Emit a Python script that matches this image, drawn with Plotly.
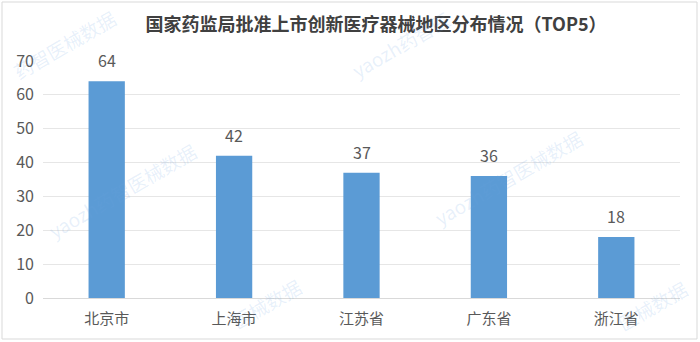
import plotly.graph_objects as go

# Regional distribution of approved innovative medical devices (top 5)
regions = ["北京市", "上海市", "江苏省", "广东省", "浙江省"]
counts = [64, 42, 37, 36, 18]
y_ticks = [0, 10, 20, 30, 40, 50, 60, 70]

title_text = "国家药监局批准上市创新医疗器械地区分布情况（TOP5）"
watermark_full = "yaozh药智医械数据"

FONT = "Noto Sans CJK SC, Microsoft YaHei, sans-serif"
BAR_COLOR = "#5B9BD5"
TEXT_COLOR = "#595959"

fig = go.Figure()
fig.add_trace(go.Bar(
    x=regions,
    y=counts,
    marker=dict(color=BAR_COLOR, line=dict(width=0)),
    hoverinfo="x+y",
))

# value labels above each bar
for r, c in zip(regions, counts):
    fig.add_annotation(
        x=r, y=c, text=str(c), showarrow=False,
        xref="x", yref="y", yanchor="bottom", yshift=7,
        font=dict(family=FONT, size=16, color=TEXT_COLOR),
    )

# faint diagonal watermark stamps, positioned in pixels of the full figure
L, R, T, B = 43, 680, 61, 298  # plot area in pixels
def px_to_paper(px, py):
    return (px - L) / (R - L), (B - py) / (B - T)

stamps = [
    (watermark_full, 122, 190),
    (watermark_full, 508, 177),
    ("药智医械数据", 64, 44),
    ("yaozh药智医", 400, 44),
    ("医械数据", 266, 303),
    ("医械数据", 652, 305),
]
for txt, cx, cy in stamps:
    xp, yp = px_to_paper(cx, cy)
    fig.add_annotation(
        x=xp, y=yp, xref="paper", yref="paper", text=txt,
        showarrow=False, textangle=-30, xanchor="center", yanchor="middle",
        font=dict(family=FONT, size=19, color="rgba(110,165,225,0.16)"),
    )

# light frame around the whole chart
x0, y0 = px_to_paper(2, 339)
x1, y1 = px_to_paper(697, 2)
fig.add_shape(type="rect", xref="paper", yref="paper", x0=x0, y0=y0, x1=x1, y1=y1,
              line=dict(color="#d9d9d9", width=1), fillcolor="rgba(0,0,0,0)", layer="below")

fig.update_layout(
    width=700, height=342,
    margin=dict(l=L, r=700 - R, t=T, b=342 - B),
    paper_bgcolor="white", plot_bgcolor="white",
    bargap=0.715,
    showlegend=False,
    title=dict(
        text="<b>" + title_text + "</b>",
        x=376 / 700, xanchor="center", y=1 - 25 / 342, yanchor="middle",
        font=dict(family=FONT, size=18, color="#404040"),
    ),
    xaxis=dict(
        showgrid=False, showline=True, linecolor="#d9d9d9", linewidth=1,
        ticks="", tickfont=dict(family=FONT, size=15, color=TEXT_COLOR),
        ticklabelstandoff=7, fixedrange=True,
    ),
    yaxis=dict(
        range=[0, 70], tickvals=y_ticks, showgrid=True, gridcolor="#e6e6e6",
        gridwidth=1, zeroline=False, showline=False, ticks="",
        tickfont=dict(family=FONT, size=16, color=TEXT_COLOR),
        ticklabelstandoff=8, fixedrange=True,
    ),
)

fig.write_html("out.html")
